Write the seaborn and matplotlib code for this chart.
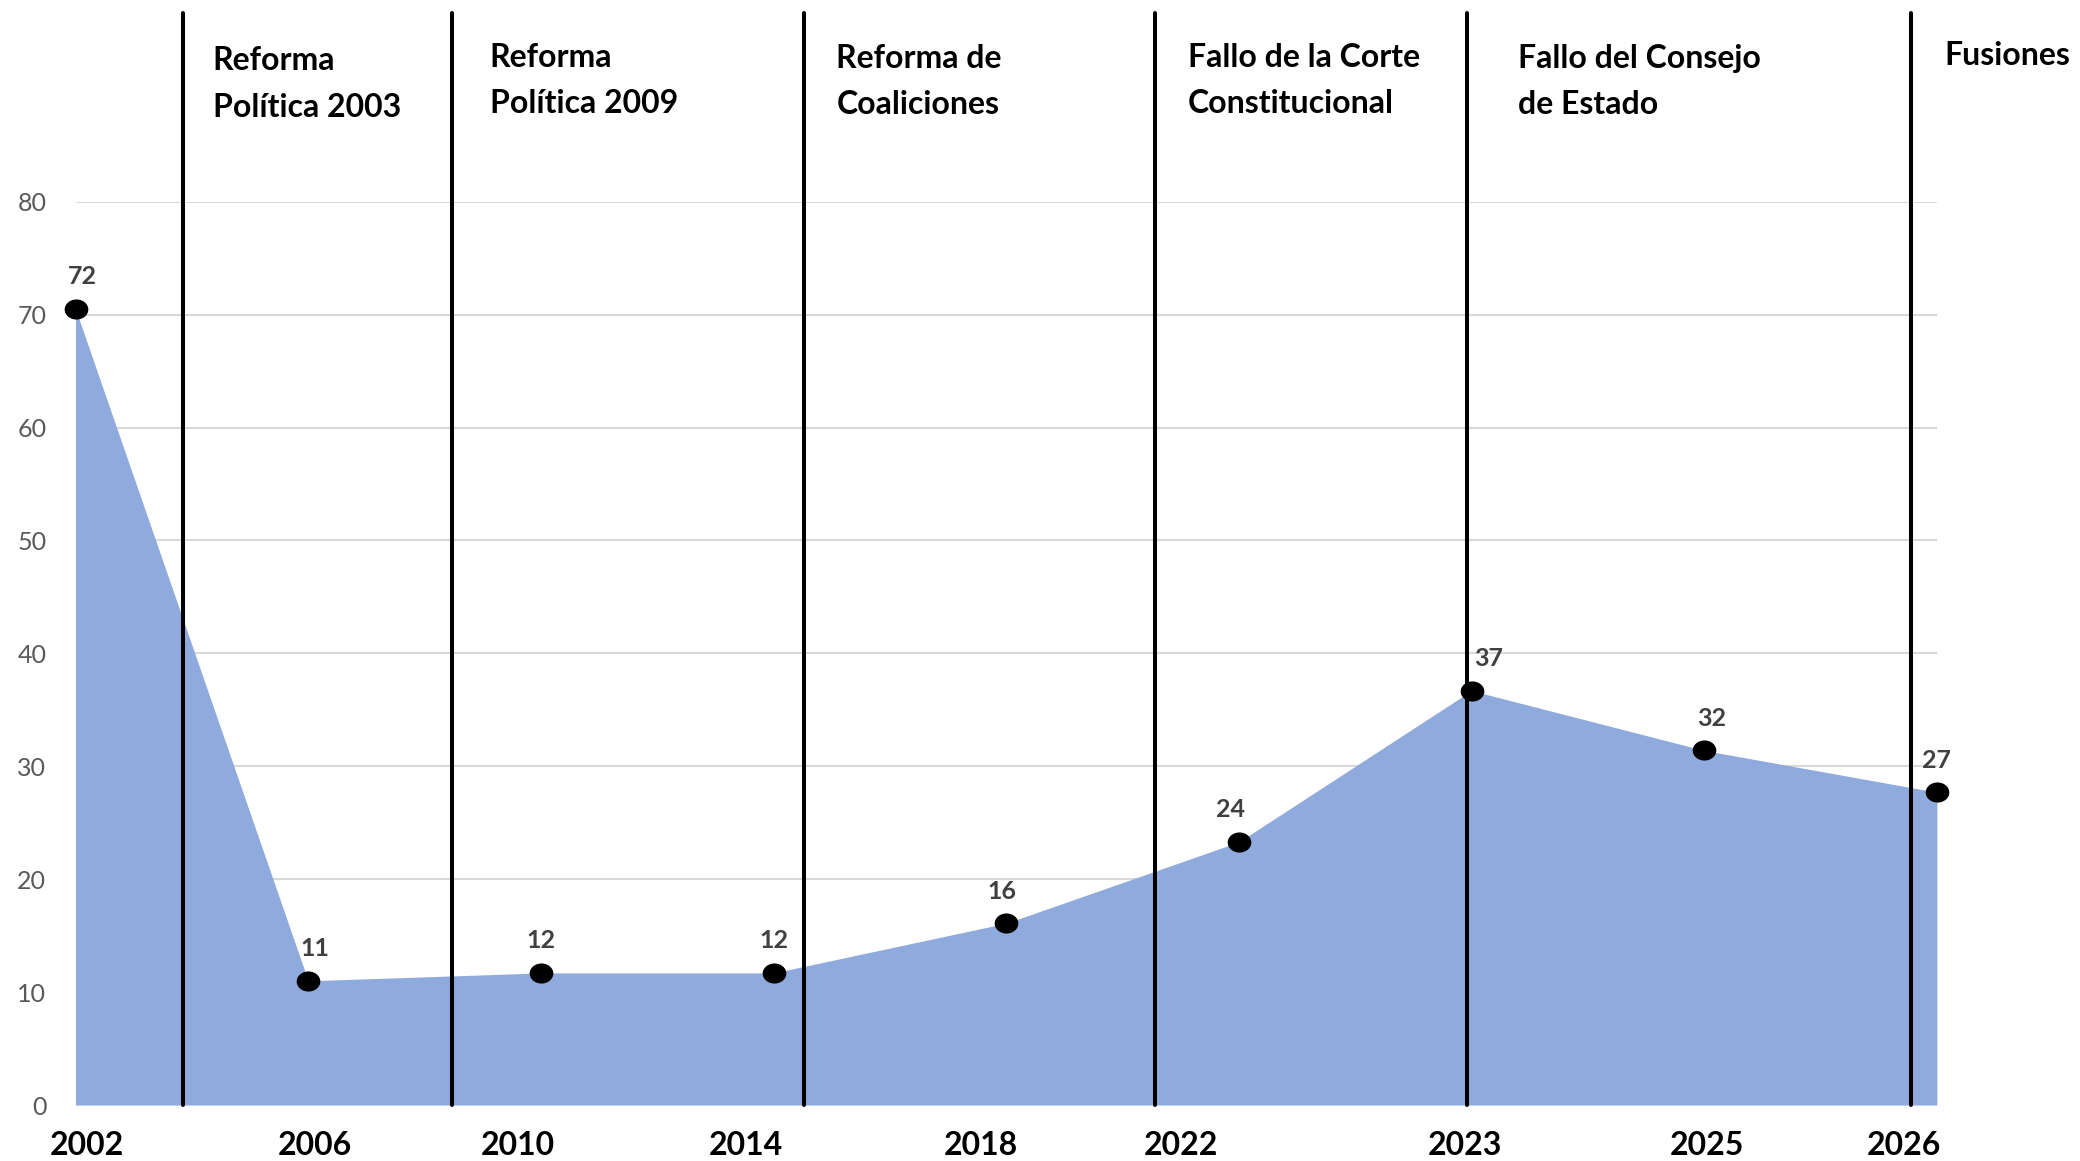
import matplotlib
matplotlib.use('Agg')
import matplotlib.pyplot as plt
import seaborn as sns
import pandas as pd
from matplotlib.path import Path
from matplotlib.transforms import Affine2D

# 数据
years = ['2002', '2006', '2010', '2014', '2018', '2022', '2023', '2025', '2026']
values = [70.5, 11.0, 11.7, 11.7, 16.1, 23.3, 36.7, 31.4, 27.7]
value_labels = ['72', '11', '12', '12', '16', '24', '37', '32', '27']

events = ['Reforma\nPolítica 2003', 'Reforma\nPolítica 2009', 'Reforma de\nCoaliciones',
          'Fallo de la Corte\nConstitucional', 'Fallo del Consejo\nde Estado', 'Fusiones']
# posición de cada evento entre categorías (unidades de categoría)
event_pos = [0.46, 1.62, 3.13, 4.64, 5.98, 7.89]

# ajustes de maquetación (línea base de la última línea, fracción de eje)
text_dx = [0.13, 0.16, 0.14, 0.14, 0.22, 0.14]
text_y = [1.094, 1.098, 1.097, 1.098, 1.097, 1.151]
tick_pos = [0.05, 1.03, 1.90, 2.88, 3.89, 4.75, 5.97, 7.01, 7.86]
label_dx = [5, 5, 0, 0, -3, -6, 12, 5, 0]

sns.set_theme(style='white')
plt.rcParams['font.family'] = ['Lato', 'DejaVu Sans']

df = pd.DataFrame({'x': range(len(years)), 'valor': values})

fig = plt.figure(figsize=(20.8, 11.61), dpi=100)
ax = fig.add_axes([0.0363, 0.0482, 0.8949, 0.7781])

# rejilla
ax.set_ylim(0, 80)
ax.set_xlim(0, len(years) - 1)
ax.set_yticks(range(0, 81, 10))
ax.yaxis.grid(True, color='#d9d9d9', lw=1.5)
ax.set_axisbelow(True)

# área
ax.fill_between(df['x'], df['valor'], 0, color='#8faadc', lw=0, zorder=2)

# líneas de eventos
for xp in event_pos:
    ax.plot([xp, xp], [0, 1.209], color='black', lw=2.9,
            transform=ax.get_xaxis_transform(), clip_on=False, zorder=3)

for txt, xp, dx, ty in zip(events, event_pos, text_dx, text_y):
    ax.text(xp + dx, ty, txt, transform=ax.get_xaxis_transform(),
            ha='left', va='baseline', fontsize=23, fontweight='bold',
            color='black', linespacing=1.72, clip_on=False)

# puntos
ellipse = Affine2D().scale(1.0, 0.85).transform_path(Path.unit_circle())
sns.scatterplot(data=df, x='x', y='valor', marker=ellipse, s=290,
                color='black', edgecolor='black', linewidth=0, ax=ax,
                zorder=5, clip_on=False, legend=False)

for i, lab in enumerate(value_labels):
    ax.annotate(lab, (df['x'][i], df['valor'][i]), xytext=(label_dx[i], 23),
                textcoords='offset points', ha='center', va='center',
                fontsize=18, fontweight='bold', color='#404040')

# ejes
ax.set_xticks(tick_pos)
ax.set_xticklabels(years, fontsize=23, fontweight='bold', color='black')
ax.tick_params(axis='x', length=0, pad=19)
ax.tick_params(axis='y', length=0, pad=21, labelsize=18, labelcolor='#595959')
ax.set_xlabel('')
ax.set_ylabel('')
for sp in ax.spines.values():
    sp.set_visible(False)

plt.savefig('out.png', dpi=100)
